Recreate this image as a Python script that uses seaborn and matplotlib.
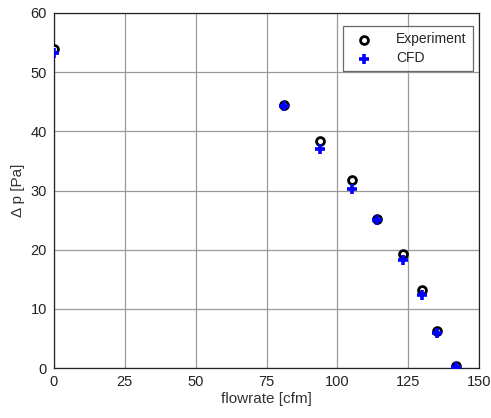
"""
Pressure drop vs flowrate: experiment vs CFD
"""

import pandas as pd
import matplotlib
matplotlib.use('Agg')
import matplotlib.pyplot as plt
import seaborn as sns

# Data
flowrate = [0, 81, 94, 105, 114, 123, 130, 135, 142]
dp_experiment = [53.9, 44.5, 38.4, 31.7, 25.2, 19.3, 13.1, 6.3, 0.3]
dp_cfd = [53.2, 44.3, 37.0, 30.3, 25.0, 18.3, 12.3, 5.9, 0.2]

exp_df = pd.DataFrame({'flowrate': flowrate, 'dp': dp_experiment})
cfd_df = pd.DataFrame({'flowrate': flowrate, 'dp': dp_cfd})

sns.set_style('white')
plt.rcParams['font.family'] = ['Liberation Sans', 'DejaVu Sans']

fig = plt.figure(figsize=(4.91, 4.18), dpi=100)
ax = fig.add_axes([54 / 491, 1 - 368 / 418, 425 / 491, 355 / 418])

sns.scatterplot(data=exp_df, x='flowrate', y='dp', ax=ax, marker='o', s=32,
                facecolor='white', edgecolor='black', linewidth=2.0,
                label='Experiment', zorder=3)
sns.scatterplot(data=cfd_df, x='flowrate', y='dp', ax=ax, marker='+', s=50,
                color='blue', linewidth=2.6, label='CFD', zorder=4)

ax.set_xlim(0, 150)
ax.set_ylim(0, 60)
ax.set_xticks([0, 25, 50, 75, 100, 125, 150])
ax.set_yticks([0, 10, 20, 30, 40, 50, 60])
ax.grid(True, color='#999999', linewidth=0.9)
ax.set_axisbelow(True)
for sp in ax.spines.values():
    sp.set_color('#222222')
    sp.set_linewidth(0.9)
ax.tick_params(direction='in', length=3, labelsize=10.5, colors='#222222', pad=5)
ax.set_xlabel('flowrate [cfm]', fontsize=11, color='#333333', labelpad=2)
ax.set_ylabel('Δ p [Pa]', fontsize=11, color='#333333', labelpad=4)

leg = ax.legend(loc='upper right', bbox_to_anchor=(0.986, 0.963), borderaxespad=0,
                fontsize=10, frameon=True, fancybox=False, borderpad=0.45,
                handletextpad=1.2, labelspacing=0.35, handlelength=2.2)
leg.get_frame().set_edgecolor('#444444')
leg.get_frame().set_linewidth(0.9)

plt.savefig('out.png', dpi=100)
